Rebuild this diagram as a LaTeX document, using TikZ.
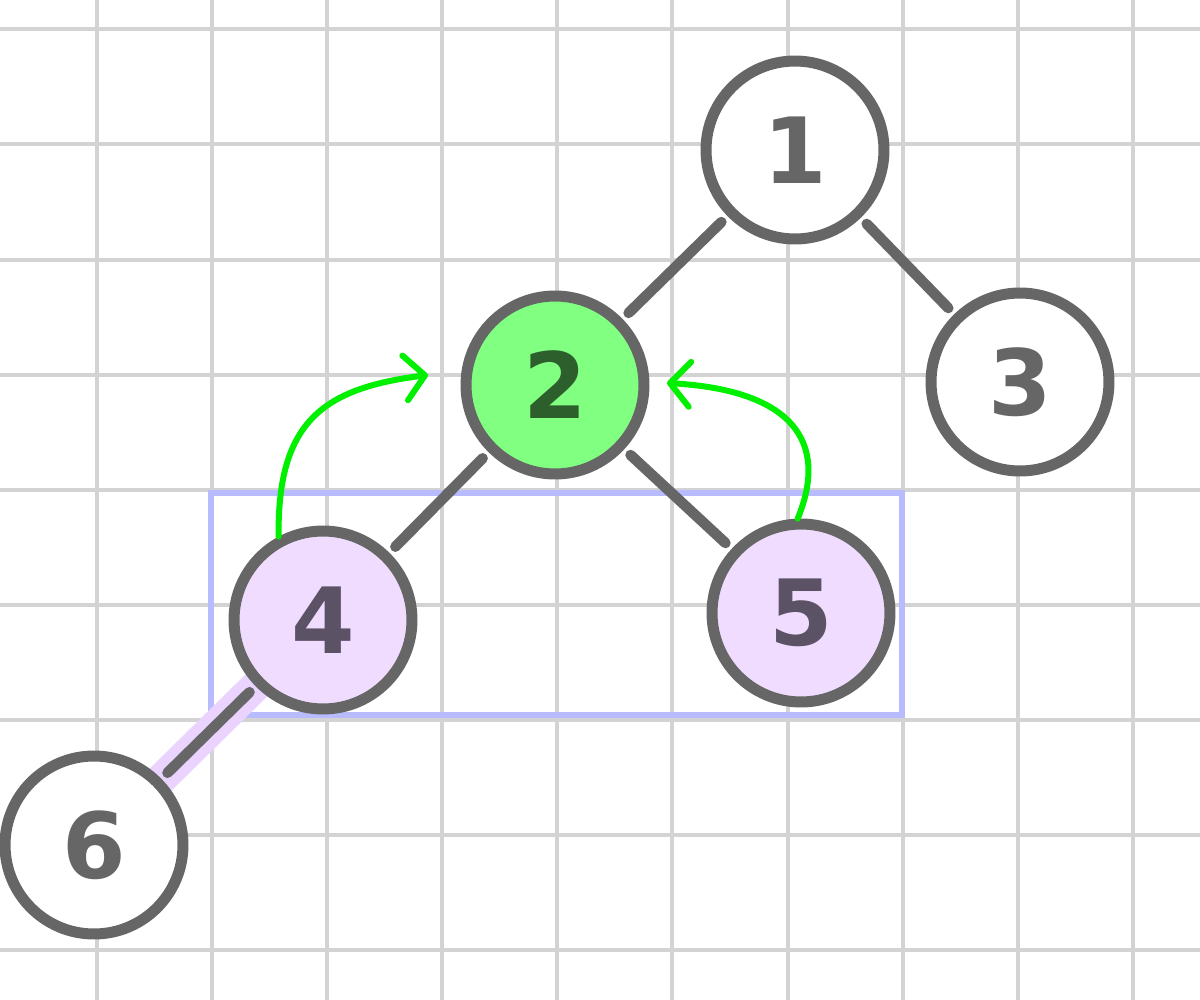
\documentclass[tikz,border=0pt]{standalone}
\usepackage{fontspec}
\setmainfont{DejaVu Sans}
\usetikzlibrary{arrows.meta,calc}
\definecolor{gridgray}{HTML}{D3D3D3}
\definecolor{edgegray}{HTML}{666666}
\definecolor{boxblue}{HTML}{B8BCFF}
\definecolor{hlpurple}{HTML}{EAD4FF}
\definecolor{nodepurple}{HTML}{F0DCFF}
\definecolor{nodegreen}{HTML}{80FF80}
\definecolor{textgreen}{HTML}{2D5F2D}
\definecolor{textpurple}{HTML}{5C5266}
\definecolor{arrowgreen}{HTML}{00F000}
\tikzset{
  gridline/.style={draw=gridgray, line width=0.065cm},
  treenode/.style={circle, draw=edgegray, line width=0.22cm, minimum size=3.56cm, inner sep=0pt, fill=white, text=edgegray,
    font=\fontsize{52}{56}\selectfont\bfseries},
  greennode/.style={treenode, fill=nodegreen, text=textgreen},
  purplenode/.style={treenode, fill=nodepurple, text=textpurple},
  treeedge/.style={draw=edgegray, line width=0.21cm, line cap=round, shorten <=0.17cm, shorten >=0.17cm},
  movearrow/.style={draw=arrowgreen, line width=0.12cm, line cap=round, line join=round,
    -{Straight Barb[length=0.4cm, width=0.9cm, line cap=round, line join=round]}},
  selbox/.style={draw=boxblue, line width=0.11cm},
  highlight/.style={draw=hlpurple, line width=0.62cm, line cap=round}
}
\begin{document}
\begin{tikzpicture}[x=0.02cm, y=-0.02cm]
\useasboundingbox (0,0) rectangle (1200,1000);
\fill[white] (0,0) rectangle (1200,1000);
% grid
\foreach \gx in {97,212,327,442,557,672,788,903,1018,1133}
  \draw[gridline] (\gx,0) -- (\gx,1000);
\foreach \gy in {29,144,260,375,490,605,720,835,950}
  \draw[gridline] (0,\gy) -- (1200,\gy);
% selection box
\draw[selbox] (211,493) rectangle (902,715);
% node positions
\coordinate (p1) at (795,150);
\coordinate (p2) at (555,385);
\coordinate (p3) at (1020,382);
\coordinate (p4) at (323,620);
\coordinate (p5) at (801,613);
\coordinate (p6) at (94,845);
% highlight band on edge 4-6
\draw[highlight] ($(p4)!0.30!(p6)$) -- ($(p4)!0.73!(p6)$);
% nodes
\node[treenode]   (n1) at (p1) {1};
\node[greennode]  (n2) at (p2) {2};
\node[treenode]   (n3) at (p3) {3};
\node[purplenode] (n4) at (p4) {4};
\node[purplenode] (n5) at (p5) {5};
\node[treenode]   (n6) at (p6) {6};
% edges
\draw[treeedge] (n1) -- (n2);
\draw[treeedge] (n1) -- (n3);
\draw[treeedge] (n2) -- (n4);
\draw[treeedge] (n2) -- (n5);
\draw[treeedge] (n4) -- (n6);
% green move arrows
\coordinate (a1) at (428,375);
\coordinate (a2) at (667,383);
\draw[movearrow] (n4.118) .. controls (277,420) and (325,388) .. (a1);
\draw[movearrow] (n5.92) .. controls (830,440) and (790,390) .. (a2);
\end{tikzpicture}
\end{document}
